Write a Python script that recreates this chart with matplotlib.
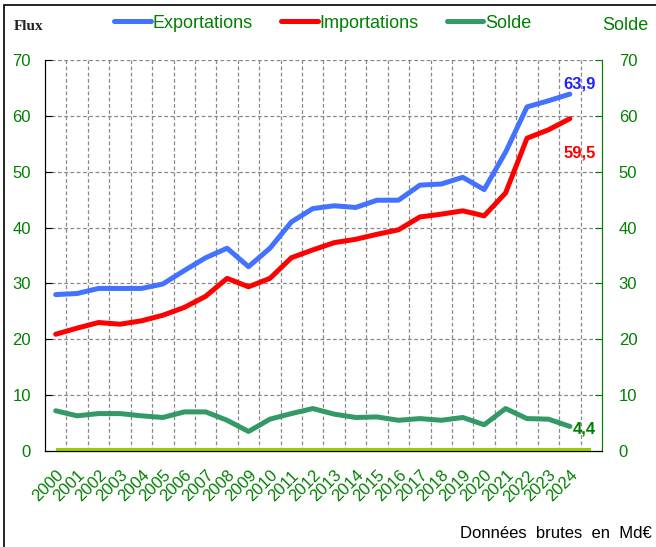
import numpy as np
import matplotlib
matplotlib.use("Agg")
import matplotlib.pyplot as plt
import matplotlib.transforms as mtransforms
from matplotlib.patches import Rectangle

plt.rcParams['font.family'] = ['Liberation Sans', 'DejaVu Sans']

years = list(range(2000, 2025))
exportations = [28.0, 28.2, 29.1, 29.1, 29.1, 29.9, 32.3, 34.6, 36.3, 33.0,
                36.3, 41.0, 43.4, 43.9, 43.6, 44.9, 44.9, 47.6, 47.8, 49.0,
                46.8, 53.5, 61.6, 62.7, 63.9]
importations = [20.9, 22.0, 23.0, 22.7, 23.3, 24.3, 25.7, 27.7, 30.9, 29.4,
                30.9, 34.6, 36.0, 37.3, 37.9, 38.8, 39.6, 41.9, 42.4, 43.0,
                42.1, 46.2, 56.0, 57.5, 59.5]
solde = [7.2, 6.3, 6.7, 6.7, 6.3, 6.0, 7.0, 7.0, 5.5, 3.5,
         5.7, 6.7, 7.6, 6.6, 6.0, 6.1, 5.5, 5.8, 5.5, 6.0,
         4.7, 7.6, 5.8, 5.7, 4.4]

blue = '#4372FF'
red = '#FF0000'
green_line = '#339966'
green_txt = '#008000'
base_col = '#99CC00'

fig = plt.figure(figsize=(6.56, 5.47), dpi=100)
ax = fig.add_axes([45/656, 1 - 451/547, (602 - 45)/656, (451 - 60)/547])

# frame around the figure
fig.patches.append(Rectangle((4/656, -0.05), 1.1, 1 - 5/547 + 0.05, transform=fig.transFigure,
                             fill=False, edgecolor='black', linewidth=1.2))

ax.plot(years, exportations, color=blue, lw=3.6, solid_capstyle='round', label='Exportations', zorder=4)
ax.plot(years, importations, color=red, lw=3.6, solid_capstyle='round', label='Importations', zorder=4)
ax.plot(years, solde, color=green_line, lw=3.6, solid_capstyle='round', label='Solde', zorder=4)
ax.hlines(0.2, years[0], years[-1] + 1, color=base_col, lw=3, zorder=5, clip_on=False)

ax.set_xlim(1999.5, 2025.5)
ax.set_ylim(0, 70)
ax.set_yticks(range(0, 71, 10))
ax.set_xticks(years)
ax.set_xticklabels([str(y) for y in years], rotation=45, ha='right',
                   rotation_mode='anchor', color=green_txt, fontsize=12)
offset = mtransforms.ScaledTranslation(10/100, 0, fig.dpi_scale_trans)
for lab in ax.get_xticklabels():
    lab.set_transform(lab.get_transform() + offset)
ax.tick_params(axis='x', length=0, pad=12)
ax.tick_params(axis='y', direction='in', length=5, colors='black', labelcolor=green_txt,
               labelsize=12, pad=10)

# grids
for v in range(10, 71, 10):
    ax.axhline(v, color='#888888', ls=(0, (3, 2)), lw=0.9, zorder=1)
for x in np.arange(2000.5, 2025, 1):
    ax.axvline(x, color='#888888', ls=(0, (3, 2)), lw=0.9, zorder=1)

ax.spines['top'].set_visible(False)
ax.spines['right'].set_color(green_txt)
ax.spines['left'].set_color('black')
ax.spines['bottom'].set_color('black')

ax2 = ax.twinx()
ax2.set_ylim(0, 70)
ax2.set_yticks(range(0, 71, 10))
ax2.tick_params(axis='y', direction='in', length=5, colors=green_txt, labelsize=12, pad=12)
ax2.spines['right'].set_color(green_txt)
ax2.spines['top'].set_visible(False)

ax.text(years[-1] + 0.47, 65.7, '63,9', color='#2020FF', fontsize=12,
        fontweight='bold', ha='center', va='center')
ax.text(years[-1] + 0.47, 53.3, '59,5', color=red, fontsize=12,
        fontweight='bold', ha='center', va='center')
ax.text(years[-1] + 0.68, 4.0, '4,4', color=green_txt, fontsize=12,
        fontweight='bold', ha='center', va='center')

leg = ax.legend(loc='center', bbox_to_anchor=(323/656, 1 - 23/547), bbox_transform=fig.transFigure,
                ncol=3, frameon=False, fontsize=13, handlelength=2.0, handletextpad=0.1,
                columnspacing=1.6)
for t in leg.get_texts():
    t.set_color(green_txt)

fig.text(14/656, 1 - 27/547, 'Flux', fontsize=11, family='Liberation Serif', fontweight='bold',
         color='#222222', va='center', ha='left')
fig.text(648/656, 1 - 26/547, 'Solde', fontsize=13, color=green_txt, va='center', ha='right')
fig.text(652/656, 1 - 533/547, 'Données  brutes  en  Md€', fontsize=12, color='black',
         va='center', ha='right')

fig.savefig('out.png', dpi=100)
